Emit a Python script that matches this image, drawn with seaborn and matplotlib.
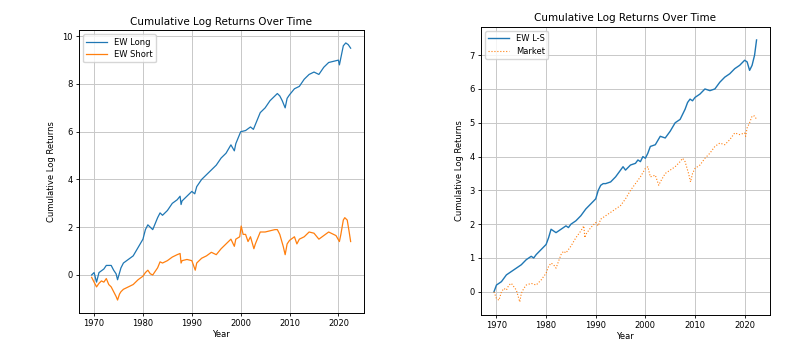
import matplotlib
matplotlib.use("Agg")
import matplotlib.pyplot as plt
import seaborn as sns

# Valores (rentabilidad log acumulada)
long_years = [1969.5, 1970.0, 1970.5, 1971.0, 1972.0, 1972.5, 1973.5, 1974.0, 1974.5, 1974.8,
              1975.5, 1976.0, 1977.0, 1978.0, 1979.0, 1980.0, 1980.5, 1981.0, 1982.0, 1983.0,
              1983.5, 1984.0, 1985.0, 1986.0, 1987.0, 1987.6, 1987.8, 1988.0, 1989.0, 1990.0,
              1990.6, 1991.0, 1992.0, 1993.0, 1994.0, 1995.0, 1996.0, 1997.0, 1998.0, 1998.7,
              1999.0, 2000.0, 2001.0, 2002.0, 2002.6, 2003.0, 2004.0, 2005.0, 2006.0, 2007.0,
              2007.5, 2008.0, 2008.5, 2009.1, 2009.5, 2010.0, 2011.0, 2012.0, 2013.0, 2014.0,
              2015.0, 2016.0, 2017.0, 2018.0, 2019.0, 2020.0, 2020.2, 2020.5, 2021.0, 2021.5,
              2022.0, 2022.5]
ew_long = [0.0, 0.1, -0.3, 0.1, 0.25, 0.4, 0.4, 0.2, 0.05, -0.2,
           0.3, 0.5, 0.65, 0.8, 1.15, 1.5, 1.9, 2.1, 1.9, 2.4,
           2.6, 2.5, 2.7, 3.0, 3.15, 3.3, 2.95, 3.1, 3.3, 3.5,
           3.4, 3.7, 4.0, 4.2, 4.4, 4.6, 4.9, 5.1, 5.45, 5.2,
           5.5, 6.0, 6.05, 6.2, 6.1, 6.3, 6.8, 7.0, 7.3, 7.5,
           7.6, 7.5, 7.3, 7.0, 7.4, 7.55, 7.8, 7.9, 8.2, 8.4,
           8.5, 8.4, 8.7, 8.9, 8.95, 9.0, 8.8, 9.1, 9.6, 9.72,
           9.65, 9.5]

short_years = [1969.5, 1970.0, 1970.5, 1971.0, 1971.5, 1972.0, 1972.5, 1973.0, 1973.5, 1974.0,
               1974.5, 1974.8, 1975.2, 1975.5, 1976.0, 1977.0, 1978.0, 1979.0, 1980.0, 1980.5,
               1981.0, 1981.5, 1982.0, 1983.0, 1983.5, 1984.0, 1985.0, 1986.0, 1987.0, 1987.6,
               1987.8, 1988.0, 1989.0, 1990.0, 1990.7, 1991.0, 1992.0, 1993.0, 1994.0, 1995.0,
               1996.0, 1997.0, 1998.0, 1998.7, 1999.0, 1999.8, 2000.1, 2000.5, 2001.0, 2001.5,
               2002.0, 2002.7, 2003.0, 2004.0, 2005.0, 2006.0, 2007.0, 2007.5, 2008.0, 2008.7,
               2009.1, 2009.5, 2010.0, 2011.0, 2011.5, 2012.0, 2013.0, 2014.0, 2015.0, 2016.0,
               2017.0, 2018.0, 2019.0, 2019.5, 2020.2, 2020.5, 2021.0, 2021.3, 2021.8, 2022.2,
               2022.5]
ew_short = [-0.1, -0.3, -0.5, -0.35, -0.25, -0.3, -0.15, -0.4, -0.5, -0.7,
            -0.9, -1.05, -0.8, -0.7, -0.6, -0.5, -0.4, -0.2, -0.05, 0.1,
            0.2, 0.05, 0.0, 0.3, 0.55, 0.5, 0.6, 0.75, 0.85, 0.9,
            0.5, 0.6, 0.65, 0.6, 0.2, 0.5, 0.7, 0.8, 0.95, 0.85,
            1.1, 1.3, 1.5, 1.2, 1.5, 1.6, 2.05, 1.7, 1.7, 1.4,
            1.6, 1.1, 1.3, 1.8, 1.8, 1.85, 1.9, 1.9, 1.7, 1.2,
            0.85, 1.3, 1.45, 1.6, 1.3, 1.5, 1.6, 1.8, 1.75, 1.5,
            1.65, 1.8, 1.7, 1.65, 1.4, 1.7, 2.3, 2.4, 2.3, 1.8,
            1.4]

ls_years = [1969.5, 1970.0, 1971.0, 1972.0, 1973.0, 1974.0, 1975.0, 1976.0, 1977.0, 1977.5,
            1978.0, 1979.0, 1980.0, 1980.5, 1981.0, 1981.5, 1982.0, 1983.0, 1984.0, 1984.5,
            1985.0, 1986.0, 1987.0, 1988.0, 1989.0, 1990.0, 1990.5, 1991.0, 1991.5, 1992.0,
            1993.0, 1994.0, 1995.0, 1995.5, 1996.0, 1997.0, 1998.0, 1998.5, 1999.0, 1999.5,
            2000.0, 2000.5, 2001.0, 2002.0, 2003.0, 2004.0, 2005.0, 2006.0, 2007.0, 2008.0,
            2008.5, 2009.0, 2009.5, 2010.0, 2011.0, 2012.0, 2013.0, 2014.0, 2015.0, 2016.0,
            2017.0, 2018.0, 2019.0, 2020.0, 2020.5, 2021.0, 2021.5, 2022.0, 2022.4]
ew_ls = [0.0, 0.2, 0.3, 0.5, 0.6, 0.7, 0.8, 0.95, 1.05, 1.0,
         1.1, 1.25, 1.4, 1.6, 1.85, 1.8, 1.75, 1.85, 1.95, 1.9,
         2.0, 2.1, 2.25, 2.45, 2.6, 2.75, 3.0, 3.15, 3.2, 3.2,
         3.25, 3.4, 3.6, 3.7, 3.6, 3.75, 3.8, 3.9, 3.85, 4.0,
         3.95, 4.1, 4.3, 4.35, 4.6, 4.55, 4.75, 5.0, 5.1, 5.4,
         5.6, 5.7, 5.65, 5.75, 5.85, 6.0, 5.95, 6.0, 6.2, 6.35,
         6.45, 6.6, 6.7, 6.85, 6.8, 6.55, 6.7, 7.0, 7.45]

mkt_years = [1969.5, 1970.0, 1970.5, 1971.0, 1971.5, 1972.0, 1972.5, 1973.0, 1973.5, 1974.0,
             1974.7, 1975.0, 1975.5, 1976.0, 1977.0, 1978.0, 1979.0, 1980.0, 1980.5, 1981.0,
             1981.5, 1982.0, 1983.0, 1983.5, 1984.0, 1985.0, 1986.0, 1987.0, 1987.6, 1987.8,
             1988.0, 1989.0, 1990.0, 1990.5, 1991.0, 1992.0, 1993.0, 1994.0, 1995.0, 1996.0,
             1997.0, 1998.0, 1999.0, 2000.0, 2000.5, 2001.0, 2002.0, 2002.7, 2003.0, 2004.0,
             2005.0, 2006.0, 2007.0, 2007.5, 2008.0, 2008.7, 2009.1, 2009.5, 2010.0, 2011.0,
             2012.0, 2013.0, 2014.0, 2015.0, 2016.0, 2017.0, 2018.0, 2019.0, 2020.0, 2020.2,
             2020.5, 2021.0, 2021.5, 2022.0, 2022.4]
market = [0.0, -0.2, -0.25, 0.0, 0.1, 0.05, 0.2, 0.25, 0.15, 0.05,
          -0.3, -0.05, 0.1, 0.2, 0.25, 0.2, 0.35, 0.55, 0.75, 0.85,
          0.8, 0.7, 1.1, 1.2, 1.15, 1.35, 1.6, 1.8, 1.95, 1.6,
          1.7, 1.9, 2.05, 1.95, 2.15, 2.25, 2.35, 2.45, 2.55, 2.75,
          3.0, 3.2, 3.4, 3.65, 3.7, 3.4, 3.45, 3.15, 3.25, 3.5,
          3.6, 3.7, 3.85, 3.95, 3.85, 3.5, 3.25, 3.5, 3.65, 3.75,
          3.95, 4.1, 4.3, 4.4, 4.35, 4.5, 4.7, 4.65, 4.7, 4.6,
          4.85, 5.0, 5.2, 5.2, 5.1]

blue = "#1f77b4"
orange = "#ff7f0e"

plt.rcParams.update({
    "font.family": ["DejaVu Sans"],
    "xtick.labelsize": 6,
    "ytick.labelsize": 6,
    "axes.labelsize": 6,
    "axes.titlesize": 7.5,
    "legend.fontsize": 6,
    "axes.linewidth": 0.7,
    "xtick.major.width": 0.6,
    "ytick.major.width": 0.6,
    "xtick.major.size": 2.5,
    "ytick.major.size": 2.5,
})

fig = plt.figure(figsize=(7.87, 3.58), dpi=100)
ax1 = fig.add_axes([0.100, 0.126, 0.362, 0.790])
ax2 = fig.add_axes([0.611, 0.120, 0.367, 0.805])

# Grafico izquierdo: largo vs corto
sns.lineplot(x=long_years, y=ew_long, ax=ax1, color=blue, linewidth=0.9, label="EW Long")
sns.lineplot(x=short_years, y=ew_short, ax=ax1, color=orange, linewidth=0.9, label="EW Short")

# Grafico derecho: long-short vs mercado
sns.lineplot(x=ls_years, y=ew_ls, ax=ax2, color=blue, linewidth=1.0, label="EW L-S")
sns.lineplot(x=mkt_years, y=market, ax=ax2, color=orange, linewidth=0.8,
             linestyle=":", label="Market")

for ax in (ax1, ax2):
    ax.set_title("Cumulative Log Returns Over Time", pad=4)
    ax.set_xlabel("Year", labelpad=1)
    ax.set_ylabel("Cumulative Log Returns", labelpad=4)
    ax.set_xticks([1970, 1980, 1990, 2000, 2010, 2020])
    ax.grid(True, color="#c8c8c8", linewidth=0.7)
    ax.tick_params(pad=2)
    ax.legend(loc="upper left", handlelength=2.5, borderpad=0.4, labelspacing=0.4)

fig.savefig("out.png", dpi=100)
